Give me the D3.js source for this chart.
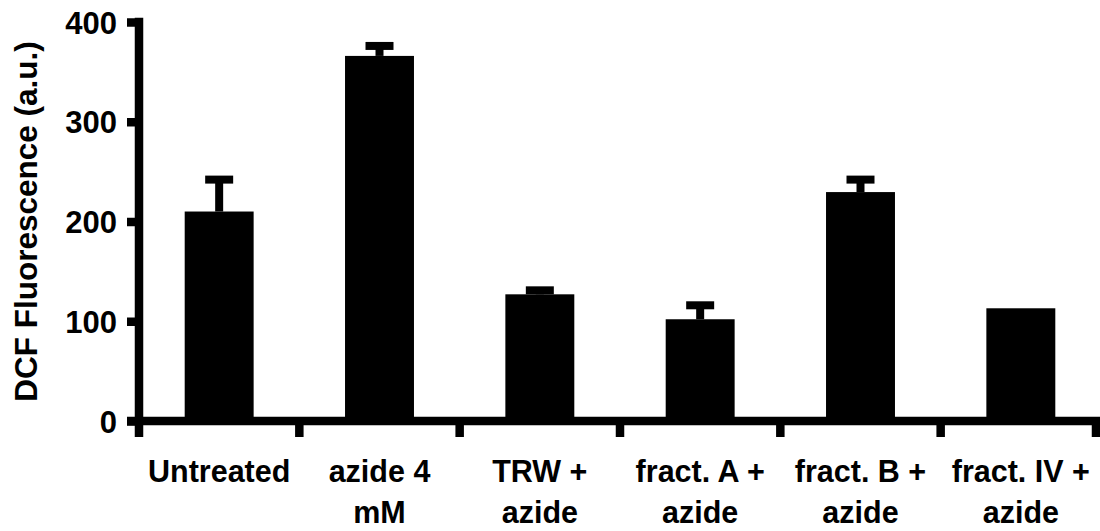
<!DOCTYPE html>
<html>
<head>
<meta charset="utf-8">
<script src="https://cdn.jsdelivr.net/npm/d3@7"></script>
<style>
  html, body { margin: 0; padding: 0; background: #fff; }
  svg { display: block; }
  text { font-family: "Liberation Sans", Arial, Helvetica, sans-serif; font-weight: bold; fill: #000; }
</style>
</head>
<body>
<svg id="chart" width="1100" height="531"></svg>
<script>
// data
const categories = [
  ['Untreated'],
  ['azide 4', 'mM'],
  ['TRW +', 'azide'],
  ['fract. A +', 'azide'],
  ['fract. B +', 'azide'],
  ['fract. IV +', 'azide']
];
const values = [210, 366, 127, 102, 229.5, 113];
const errorTops = [242, 376, 131, 116, 242, null];
const yTicks = [0, 100, 200, 300, 400];
const yTitle = 'DCF Fluorescence (a.u.)';

const margin = { top: 22, right: 0, bottom: 110, left: 139 };

const svg = d3.select('#chart');

const keys = categories.map(c => c.join(' '));

const x = d3.scaleBand()
  .domain(keys)
  .range([margin.left, 1101])
  .paddingInner(0.57)
  .paddingOuter(0.285);

const y = d3.scaleLinear()
  .domain([0, 400])
  .range([421, margin.top]);

const lw = 8.5;

// bars
svg.append('g')
  .selectAll('rect')
  .data(values)
  .enter()
  .append('rect')
  .attr('x', (d, i) => x(keys[i]))
  .attr('width', x.bandwidth())
  .attr('y', d => y(d))
  .attr('height', d => y(0) - y(d))
  .attr('fill', '#000');

// error bars (upper only)
const errs = values.map((v, i) => ({ v, e: errorTops[i], k: keys[i] })).filter(d => d.e != null);
const eg = svg.append('g').attr('stroke', '#000').attr('stroke-width', 8);
eg.selectAll('line.stem')
  .data(errs)
  .enter()
  .append('line')
  .attr('class', 'stem')
  .attr('x1', d => x(d.k) + x.bandwidth() / 2)
  .attr('x2', d => x(d.k) + x.bandwidth() / 2)
  .attr('y1', d => y(d.v))
  .attr('y2', d => y(d.e));
eg.selectAll('line.cap')
  .data(errs)
  .enter()
  .append('line')
  .attr('class', 'cap')
  .attr('x1', d => x(d.k) + x.bandwidth() / 2 - 14)
  .attr('x2', d => x(d.k) + x.bandwidth() / 2 + 14)
  .attr('y1', d => y(d.e))
  .attr('y2', d => y(d.e));

// y axis
const yAxis = g => g
  .attr('transform', `translate(${margin.left},0)`)
  .call(d3.axisLeft(y).tickValues(yTicks).tickSize(12).tickPadding(10).tickFormat(d3.format('d')))
  .call(g => g.select('.domain').remove())
  .call(g => g.selectAll('.tick line').attr('stroke', '#000').attr('stroke-width', lw))
  .call(g => g.selectAll('.tick text').attr('font-size', 31).attr('dy', '0.36em'));
svg.append('g').call(yAxis);

svg.append('line')
  .attr('x1', margin.left).attr('x2', margin.left)
  .attr('y1', y(400) - lw / 2).attr('y2', 437)
  .attr('stroke', '#000').attr('stroke-width', lw);

// x axis line + boundary ticks
svg.append('line')
  .attr('x1', margin.left - 12).attr('x2', 1100)
  .attr('y1', y(0)).attr('y2', y(0))
  .attr('stroke', '#000').attr('stroke-width', lw);

const bounds = keys.map(k => x(k) + x.bandwidth() / 2 + x.step() / 2);
svg.append('g')
  .selectAll('line')
  .data(bounds)
  .enter()
  .append('line')
  .attr('x1', d => Math.min(d, 1096))
  .attr('x2', d => Math.min(d, 1096))
  .attr('y1', y(0))
  .attr('y2', 437)
  .attr('stroke', '#000')
  .attr('stroke-width', lw);

// category labels
const lab = svg.append('g')
  .selectAll('text')
  .data(categories)
  .enter()
  .append('text')
  .attr('text-anchor', 'middle')
  .attr('font-size', 30.5)
  .attr('transform', (d, i) => `translate(${x(keys[i]) + x.bandwidth() / 2},482)`);
lab.selectAll('tspan')
  .data(d => d)
  .enter()
  .append('tspan')
  .attr('x', 0)
  .attr('y', (d, j) => j * 41)
  .text(d => d);

// y title
svg.append('text')
  .attr('transform', `translate(37,${(40 + 403) / 2}) rotate(-90)`)
  .attr('text-anchor', 'middle')
  .attr('font-size', 31.5)
  .text(yTitle);
</script>
</body>
</html>
